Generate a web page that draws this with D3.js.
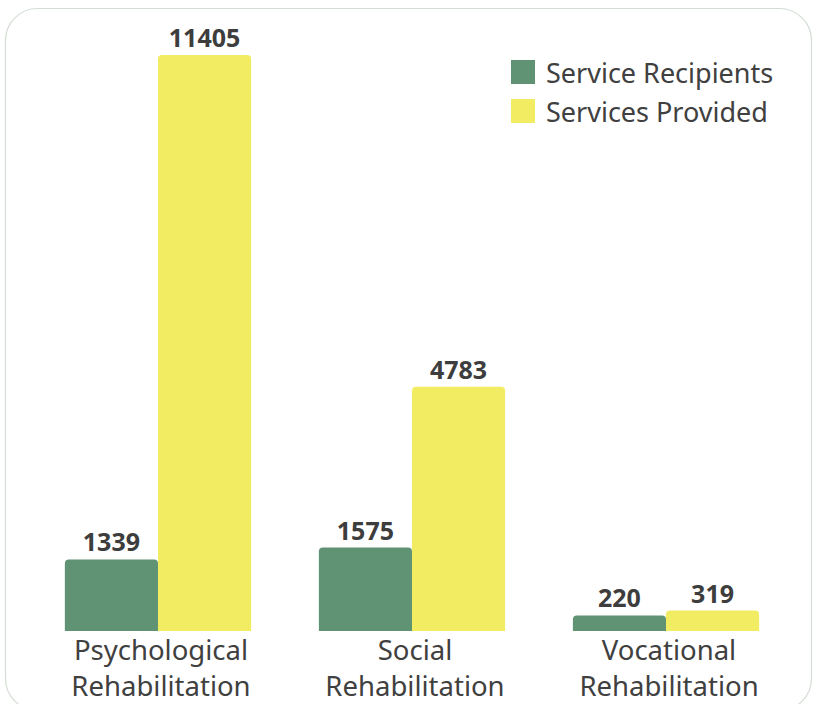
<!DOCTYPE html>
<html><head><meta charset="utf-8">
<script src="https://cdn.jsdelivr.net/npm/d3@7"></script>
<style>body{margin:0;background:#fff;}svg{display:block;font-family:"Noto Sans","Open Sans",sans-serif;}</style>
</head><body>
<svg id="c" width="814" height="704"></svg>
<script>
const categories = [["Psychological","Rehabilitation"],["Social","Rehabilitation"],["Vocational","Rehabilitation"]];
const seriesNames = ["Service Recipients","Services Provided"];
const recipients = [1339, 1575, 220];
const provided = [11405, 4783, 319];
const colors = ["#5f9373","#f2ec62"];

const svg = d3.select("#c");
svg.append("rect").attr("x",5.5).attr("y",8.5).attr("width",806).attr("height",702)
  .attr("rx",32).attr("fill","#fff").attr("stroke","#d3ddd3").attr("stroke-width",1.2);

const x0 = d3.scaleBand().domain(d3.range(categories.length)).range([31,793]).paddingInner(0.2667).paddingOuter(0.1333);
const x1 = d3.scaleBand().domain(d3.range(2)).range([0,x0.bandwidth()]);
const y = d3.scaleLinear().domain([0,11405]).range([626.5,55]);
const base = 631;
const data = [recipients, provided];

categories.forEach((cat,i)=>{
  const g = svg.append("g").attr("transform",`translate(${x0(i)},0)`);
  data.forEach((vals,s)=>{
    const v = vals[i], bx = x1(s), bw = x1.bandwidth(), top = y(v);
    const r = 4;
    const p = `M${bx},${base} L${bx},${top+r} Q${bx},${top} ${bx+r},${top} L${bx+bw-r},${top} Q${bx+bw},${top} ${bx+bw},${top+r} L${bx+bw},${base} Z`;
    g.append("path").attr("d",p).attr("fill",colors[s]);
    g.append("text").attr("x",bx+bw/2).attr("y",top-8).attr("text-anchor","middle")
      .attr("font-size",25).attr("font-weight","bold").attr("fill","#3d3d3d").text(v);
  });
  const t = g.append("text").attr("text-anchor","middle").attr("font-size",27.5).attr("fill","#404040");
  cat.forEach((line,k)=>{
    t.append("tspan").attr("x",x0.bandwidth()/2+3).attr("y",660+k*35.5).text(line);
  });
});

const leg = svg.append("g").attr("transform","translate(511,60)");
seriesNames.forEach((n,i)=>{
  leg.append("rect").attr("x",0).attr("y",i*39).attr("width",24).attr("height",24).attr("fill",colors[i]);
  leg.append("text").attr("x",35).attr("y",i*39+23).attr("font-size",27).attr("fill","#404040").text(n);
});
</script>
</body></html>
